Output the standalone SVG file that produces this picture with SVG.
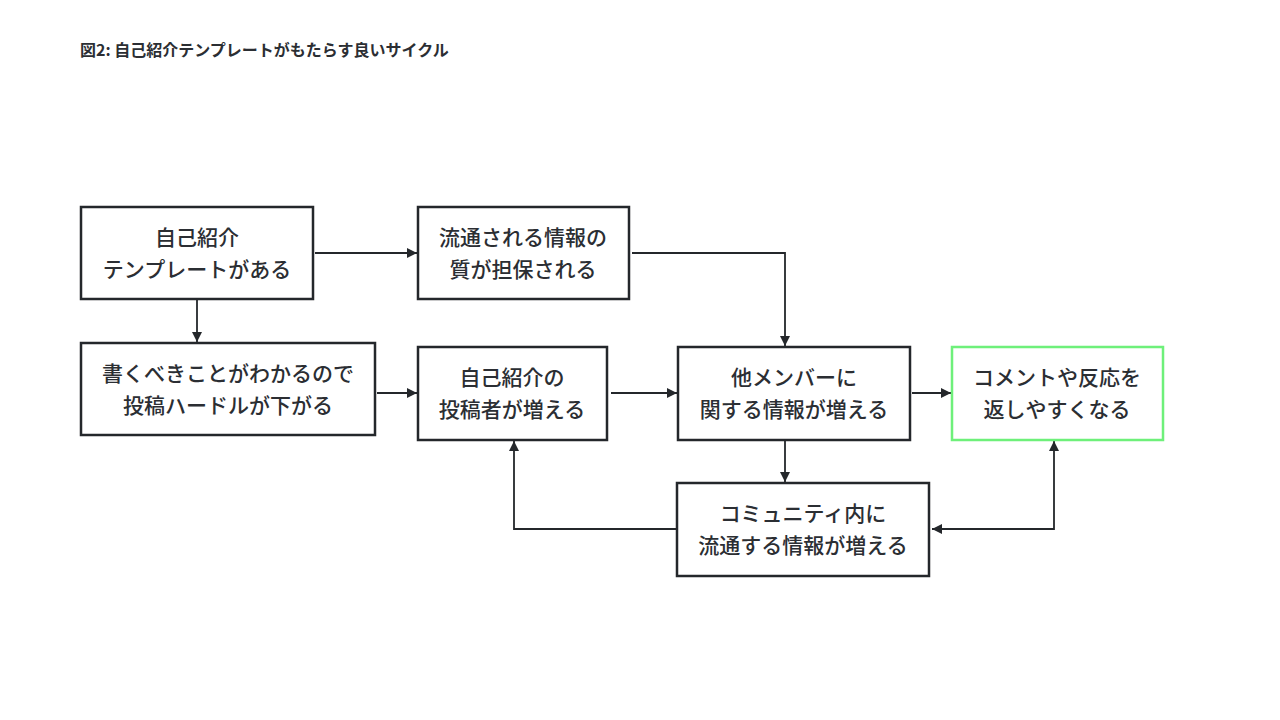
<svg xmlns="http://www.w3.org/2000/svg" width="1280" height="720" viewBox="0 0 1280 720">
<style>
.box{fill:#fff;stroke:#24272b;stroke-width:2.5}
.hl{fill:#fff;stroke:#6ef07a;stroke-width:2.5}
.t{font-family:"Noto Sans CJK JP","Noto Sans",sans-serif;font-size:21px;font-weight:500;fill:#2b2e33;text-anchor:middle}
.title{font-family:"Noto Sans CJK JP","Noto Sans",sans-serif;font-size:16px;font-weight:700;fill:#2b2e33}
.c{fill:none;stroke:#24272b;stroke-width:1.8}
</style>
<defs>
<marker id="ah" viewBox="0 0 10 10" refX="10" refY="5" markerWidth="10" markerHeight="10" markerUnits="userSpaceOnUse" orient="auto-start-reverse">
<path d="M0,0 L10,5 L0,10 z" fill="#24272b"/>
</marker>
</defs>
<rect width="1280" height="720" fill="#fff"/>
<text class="title" x="80" y="56">図2: 自己紹介テンプレートがもたらす良いサイクル</text>
<g id="connectors">
<path class="c" d="M315,253 H417" marker-end="url(#ah)"/>
<path class="c" d="M197,300 V342" marker-end="url(#ah)"/>
<path class="c" d="M632,253 H785 V346" marker-end="url(#ah)"/>
<path class="c" d="M377,393 H417" marker-end="url(#ah)"/>
<path class="c" d="M611,393 H677" marker-end="url(#ah)"/>
<path class="c" d="M912,393 H951" marker-end="url(#ah)"/>
<path class="c" d="M785,441 V482" marker-end="url(#ah)"/>
<path class="c" d="M676,529 H514 V441" marker-end="url(#ah)"/>
<path class="c" d="M932,529 H1054 V441" marker-start="url(#ah)" marker-end="url(#ah)"/>
</g>
<g id="n1"><rect class="box" x="81" y="207" width="232" height="92"/><text class="t" x="197" y="245">自己紹介</text><text class="t" x="197" y="277">テンプレートがある</text></g>
<g id="n2"><rect class="box" x="418" y="207" width="211" height="92"/><text class="t" x="523" y="245">流通される情報の</text><text class="t" x="523" y="277">質が担保される</text></g>
<g id="n3"><rect class="box" x="81" y="343" width="294" height="92"/><text class="t" x="228" y="381">書くべきことがわかるので</text><text class="t" x="228" y="413">投稿ハードルが下がる</text></g>
<g id="n4"><rect class="box" x="418" y="347" width="189" height="93"/><text class="t" x="512" y="385">自己紹介の</text><text class="t" x="512" y="417">投稿者が増える</text></g>
<g id="n5"><rect class="box" x="678" y="347" width="232" height="93"/><text class="t" x="794" y="385">他メンバーに</text><text class="t" x="794" y="417">関する情報が増える</text></g>
<g id="n6"><rect class="hl" x="952" y="347" width="211" height="93"/><text class="t" x="1057" y="385">コメントや反応を</text><text class="t" x="1057" y="417">返しやすくなる</text></g>
<g id="n7"><rect class="box" x="677" y="483" width="252" height="93"/><text class="t" x="803" y="521">コミュニティ内に</text><text class="t" x="803" y="553">流通する情報が増える</text></g>
</svg>
